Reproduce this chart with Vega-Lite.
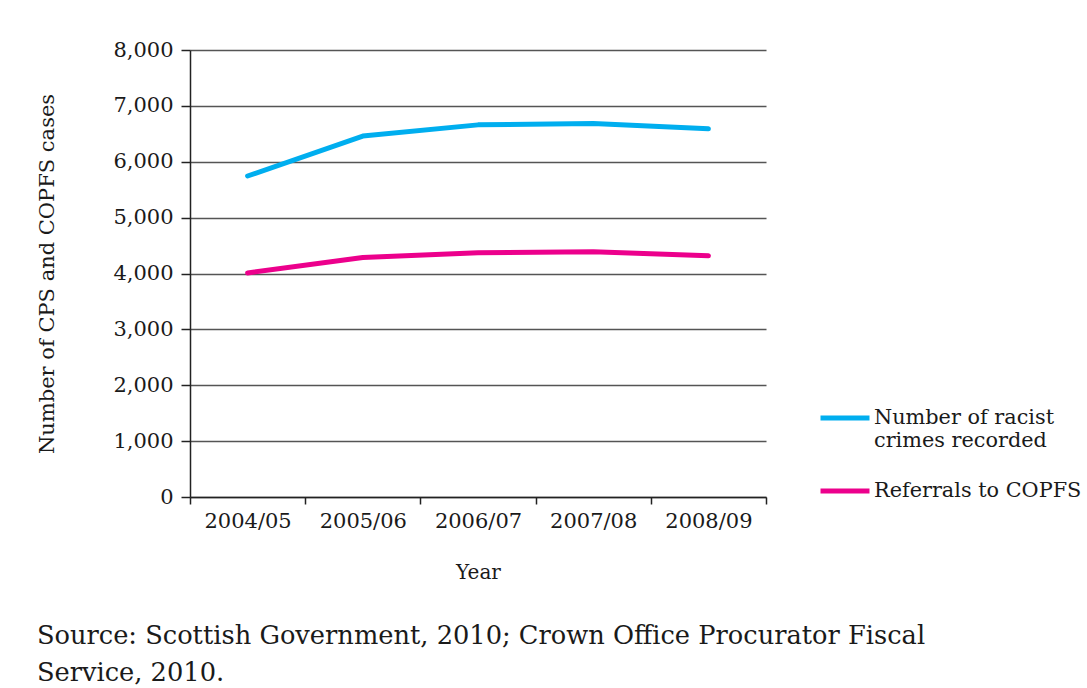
{
  "$schema": "https://vega.github.io/schema/vega-lite/v6.json",
  "width": 576,
  "height": 447,
  "autosize": {"type": "none"},
  "padding": {"left": 190, "top": 50, "right": 321, "bottom": 191},
  "background": "white",
  "title": {
    "text": ["Source: Scottish Government, 2010; Crown Office Procurator Fiscal", "Service, 2010."],
    "orient": "bottom",
    "anchor": "start",
    "frame": "bounds",
    "font": "DejaVu Serif",
    "fontSize": 25.7,
    "fontWeight": "normal",
    "lineHeight": 37,
    "offset": 42,
    "color": "#1a1a1a"
  },
  "data": {
    "values": [
      {"year": "2004/05", "series": "Number of racist crimes recorded", "value": 5745},
      {"year": "2005/06", "series": "Number of racist crimes recorded", "value": 6460},
      {"year": "2006/07", "series": "Number of racist crimes recorded", "value": 6660},
      {"year": "2007/08", "series": "Number of racist crimes recorded", "value": 6685},
      {"year": "2008/09", "series": "Number of racist crimes recorded", "value": 6590},
      {"year": "2004/05", "series": "Referrals to COPFS", "value": 4010},
      {"year": "2005/06", "series": "Referrals to COPFS", "value": 4286},
      {"year": "2006/07", "series": "Referrals to COPFS", "value": 4370},
      {"year": "2007/08", "series": "Referrals to COPFS", "value": 4390},
      {"year": "2008/09", "series": "Referrals to COPFS", "value": 4316}
    ]
  },
  "mark": {"type": "line", "strokeWidth": 5, "strokeCap": "round", "strokeJoin": "round"},
  "encoding": {
    "x": {
      "field": "year",
      "type": "ordinal",
      "scale": {"type": "band", "paddingInner": 0, "paddingOuter": 0},
      "axis": {
        "title": "Year",
        "labelAngle": 0,
        "tickBand": "extent",
        "tickSize": 7,
        "tickColor": "#222222",
        "tickWidth": 1.5,
        "domainColor": "#222222",
        "domainWidth": 1.5,
        "labelPadding": 6,
        "labelFont": "DejaVu Serif",
        "labelFontSize": 21,
        "labelColor": "#1a1a1a",
        "titleFont": "DejaVu Serif",
        "titleFontSize": 20,
        "titleFontWeight": "normal",
        "titleColor": "#1a1a1a",
        "titlePadding": 31
      }
    },
    "y": {
      "field": "value",
      "type": "quantitative",
      "scale": {"domain": [0, 8000]},
      "axis": {
        "title": "Number of CPS and COPFS cases",
        "values": [0, 1000, 2000, 3000, 4000, 5000, 6000, 7000, 8000],
        "format": ",.0f",
        "grid": true,
        "gridColor": "#555555",
        "gridWidth": 1.5,
        "domainColor": "#222222",
        "domainWidth": 1.5,
        "tickColor": "#222222",
        "tickWidth": 1.5,
        "tickSize": 9,
        "labelPadding": 8,
        "labelFont": "DejaVu Serif",
        "labelFontSize": 21,
        "labelColor": "#1a1a1a",
        "titleFont": "DejaVu Serif",
        "titleFontSize": 21,
        "titleFontWeight": "normal",
        "titleColor": "#1a1a1a",
        "titlePadding": 55
      }
    },
    "color": {
      "field": "series",
      "type": "nominal",
      "scale": {
        "domain": ["Number of racist crimes recorded", "Referrals to COPFS"],
        "range": ["#00aeef", "#ec008c"]
      },
      "legend": {
        "title": null,
        "orient": "none",
        "legendX": 628,
        "legendY": 341,
        "padding": 0,
        "symbolType": "stroke",
        "symbolStrokeWidth": 5,
        "symbolSize": 2400,
        "labelFont": "DejaVu Serif",
        "labelFontSize": 20.8,
        "labelColor": "#1a1a1a",
        "labelLimit": 400,
        "labelOffset": 2,
        "rowPadding": 13,
        "labelExpr": "datum.label == 'Number of racist crimes recorded' ? ['Number of racist', 'crimes recorded'] : datum.label"
      }
    }
  },
  "config": {"view": {"stroke": null}}
}
